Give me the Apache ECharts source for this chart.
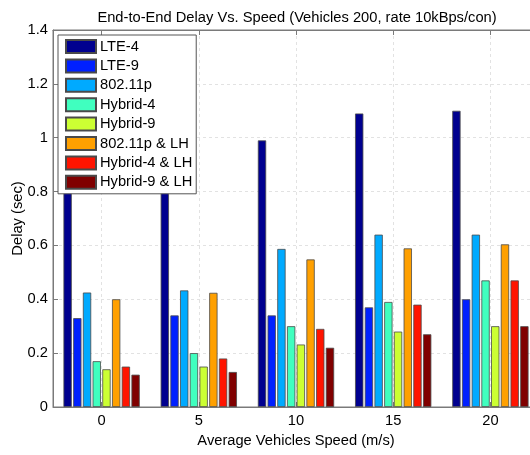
<!DOCTYPE html>
<html><head><meta charset="utf-8">
<script src="https://cdn.jsdelivr.net/npm/echarts@6/dist/echarts.min.js"></script>
<style>html,body{margin:0;padding:0;background:#fff}#c{width:530px;height:455px}</style>
</head><body><div id="c"></div>
<script>
const categories = ['0', '5', '10', '15', '20'];
const seriesNames = ['LTE-4', 'LTE-9', '802.11p', 'Hybrid-4', 'Hybrid-9', '802.11p & LH', 'Hybrid-4 & LH', 'Hybrid-9 & LH'];
const lte4 = [0.97, 0.98, 0.99, 1.09, 1.10];
const lte9 = [0.33, 0.34, 0.34, 0.37, 0.40];
const p80211 = [0.425, 0.433, 0.587, 0.64, 0.64];
const hybrid4 = [0.17, 0.20, 0.30, 0.39, 0.47];
const hybrid9 = [0.14, 0.15, 0.232, 0.28, 0.30];
const p80211LH = [0.40, 0.424, 0.548, 0.589, 0.604];
const hybrid4LH = [0.15, 0.18, 0.29, 0.38, 0.47];
const hybrid9LH = [0.12, 0.13, 0.22, 0.27, 0.30];
const seriesValues = [lte4, lte9, p80211, hybrid4, hybrid9, p80211LH, hybrid4LH, hybrid9LH];
const colors = ['#00008F', '#0020FF', '#00AAFF', '#40FFBF', '#CCFF33', '#FFA000', '#FF1400', '#800000'];
const yTicks = { min: 0, max: 1.4, interval: 0.2 };

const FONT = '"Liberation Sans", Arial, Helvetica, sans-serif';
const FS = 14.7;
const axisGray = '#7a7a7a';

const chart = echarts.init(document.getElementById('c'), null, { renderer: 'canvas' });
const series = seriesNames.map((n, i) => ({
  name: n,
  type: 'bar',
  data: seriesValues[i],
  barWidth: 8.3,
  barGap: '17%',
  itemStyle: { color: colors[i], borderColor: '#4a4a4a', borderWidth: 0.8 },
  emphasis: { disabled: true }
}));

chart.setOption({
  animation: false,
  textStyle: { fontFamily: FONT },
  title: {
    text: 'End-to-End Delay Vs. Speed (Vehicles 200, rate 10kBps/con)',
    left: 292, top: 5, textAlign: 'center',
    textStyle: { fontFamily: FONT, fontSize: FS, fontWeight: 'normal', color: '#000' }
  },
  grid: { left: 53, right: -9, top: 30, bottom: 48, containLabel: false, outerBoundsMode: 'none', show: true, borderColor: axisGray, borderWidth: 1, backgroundColor: 'transparent' },
  legend: {
    data: seriesNames,
    orient: 'vertical', left: 58, top: 35,
    itemWidth: 30, itemHeight: 13, itemGap: 4.4,
    padding: [4, 4, 4, 7],
    backgroundColor: '#fff', borderColor: '#555', borderWidth: 1,
    icon: 'rect',
    textStyle: { fontFamily: FONT, fontSize: FS, color: '#000', lineHeight: 15, padding: [0, 0, 0, -1] },
    selectedMode: false
  },
  xAxis: [{
    type: 'category', data: categories, position: 'bottom',
    name: 'Average Vehicles Speed (m/s)', nameLocation: 'middle', nameGap: 26, nameMoveOverlap: false,
    nameTextStyle: { fontFamily: FONT, fontSize: FS, color: '#000' },
    axisLine: { show: true, lineStyle: { color: axisGray } },
    axisTick: { show: true, inside: true, alignWithLabel: true, length: 5, lineStyle: { color: axisGray } },
    axisLabel: { fontFamily: FONT, fontSize: FS, color: '#000', margin: 6 },
    splitLine: { show: true, alignWithLabel: true, lineStyle: { color: '#e2e2e2', type: [3, 3] } }
  }, {
    type: 'category', data: categories, position: 'top',
    axisLine: { show: true, lineStyle: { color: axisGray } },
    axisTick: { show: true, inside: true, alignWithLabel: true, length: 5, lineStyle: { color: axisGray } },
    axisLabel: { show: false }, splitLine: { show: false }
  }],
  yAxis: {
    type: 'value', min: yTicks.min, max: yTicks.max, interval: yTicks.interval,
    name: 'Delay (sec)', nameLocation: 'middle', nameGap: 28, nameMoveOverlap: false,
    nameTextStyle: { fontFamily: FONT, fontSize: FS, color: '#000' },
    axisLine: { show: true, lineStyle: { color: axisGray } },
    axisTick: { show: true, inside: true, length: 5, lineStyle: { color: axisGray } },
    axisLabel: { fontFamily: FONT, fontSize: FS, color: '#000', margin: 5 },
    splitLine: { show: true, lineStyle: { color: '#e2e2e2', type: [3, 3] } }
  },
  series: series
});
</script></body></html>
